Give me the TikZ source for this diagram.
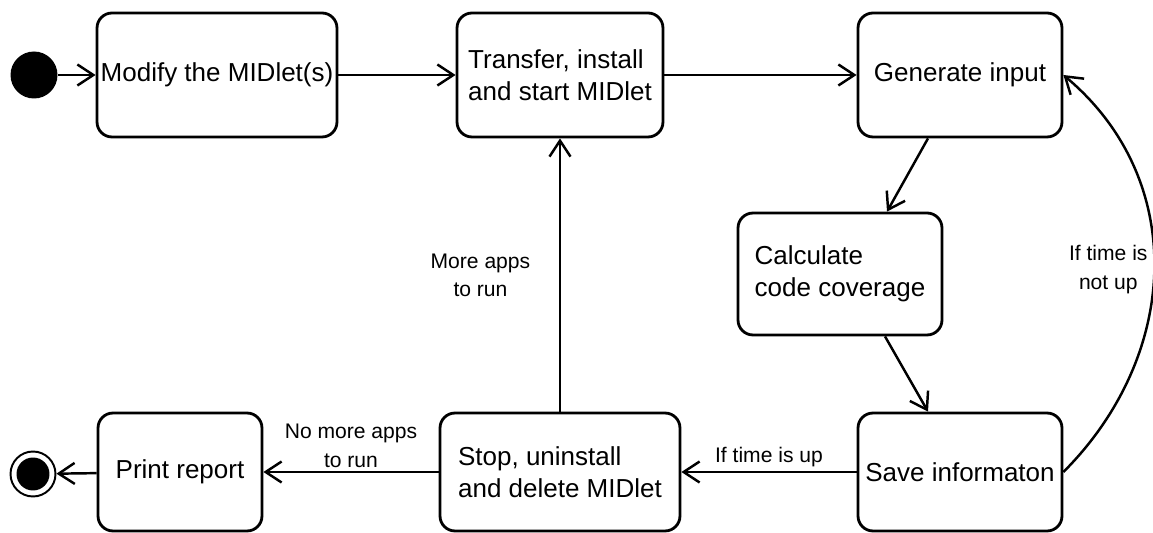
\documentclass[tikz,border=0pt]{standalone}
\usepackage{fontspec}
\setmainfont{Liberation Sans}
\usetikzlibrary{arrows.meta,calc}

\begin{document}
\begin{tikzpicture}[x=0.02cm, y=-0.02cm,
  >={Straight Barb[length=3.2mm, width=4.2mm]},
  act/.style={draw, rounded corners=0.3cm, line width=1.6pt, fill=white,
               minimum height=2.48cm, inner sep=2pt,
               font=\fontsize{14.8}{18.2}\selectfont, align=left},
  e/.style={->, line width=1.4pt},
  lbl/.style={font=\fontsize{12}{16}\selectfont, align=center, inner sep=2pt}
]
  \useasboundingbox (0,0) rectangle (1153,533);
  % pseudo-estados
  \node[circle, fill=black, minimum size=0.94cm, inner sep=0pt] (init) at (34,75) {};
  \node[circle, draw, line width=1.1pt, minimum size=0.9cm, inner sep=0pt,
        path picture={\fill (path picture bounding box.center) circle (0.33cm);}] (final) at (33,474) {};
  % fila superior
  \node[act, minimum width=4.8cm]  (mod)   at (217,75) {Modify the MIDlet(s)};
  \node[act, minimum width=4.12cm] (trans) at (560,75) {Transfer, install\\and start MIDlet};
  \node[act, minimum width=4.08cm] (gen)   at (960,75) {Generate input};
  % centro
  \node[act, minimum width=4.08cm, minimum height=2.44cm] (cov) at (840,274) {Calculate\\code coverage};
  % fila inferior
  \node[act, minimum width=4.08cm, minimum height=2.36cm] (save)  at (960,472) {Save informaton};
  \node[act, minimum width=4.8cm,  minimum height=2.36cm] (stop)  at (560,472) {Stop, uninstall\\and delete MIDlet};
  \node[act, minimum width=3.28cm, minimum height=2.36cm] (print) at (180,472) {Print report};
  % transiciones
  \draw[e] (init) -- (mod);
  \draw[e] (mod) -- (trans);
  \draw[e] (trans) -- (gen);
  \draw[e] ($(gen.south)+(-32,0)$) -- ($(cov.north)+(47,0)$);
  \draw[e] ($(cov.south)+(45,0)$) -- ($(save.north)+(-32,0)$);
  \draw[e] (save) -- (stop) node[lbl, midway, above]{If time is up};
  \draw[e] (stop) -- (print) node[lbl, midway, above]{No more apps\\to run};
  \draw[e] (print) -- (final);
  \draw[e] (stop) -- (trans) node[lbl, midway, left=0.5cm]{More apps\\to run};
  \draw[e] (save.east) to[out=45, in=-40, looseness=1.06] node[lbl, midway, left=1pt]{If time is\\not up} (gen.east);
\end{tikzpicture}
\end{document}
